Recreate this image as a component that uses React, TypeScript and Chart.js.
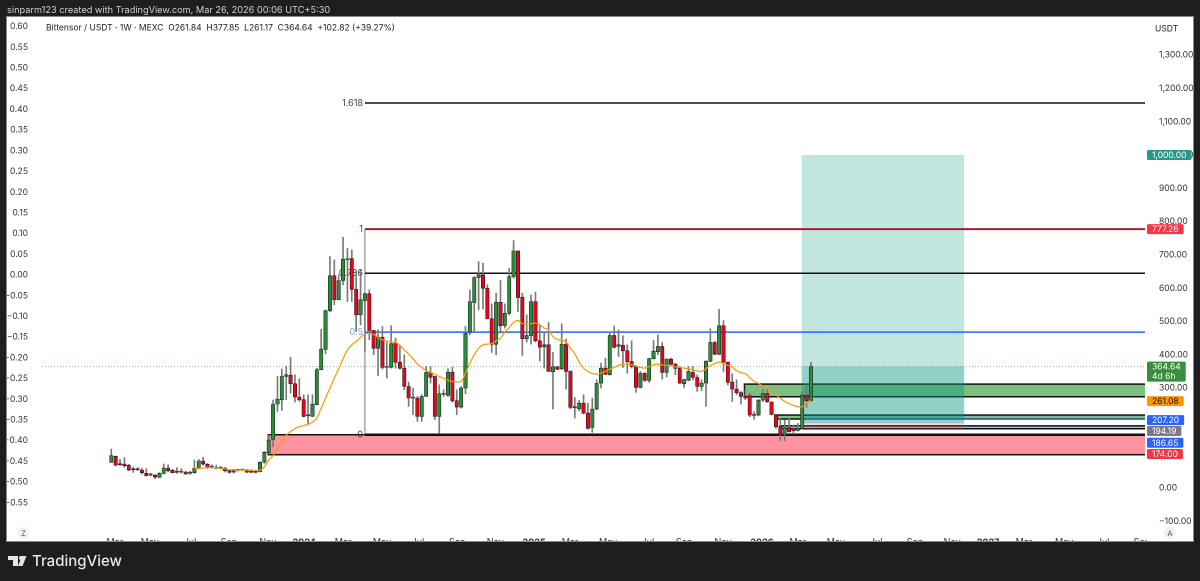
import React, { useEffect, useRef } from 'react';
import Chart from 'chart.js/auto';

const opens = [77,95,71,72,68,56,55,54,44,40,38,32,44,60,53,47,48,48,44,46,60,81,71,62,62,61,59,52,48,53,54,54,48,47,49,78,106,146,
  252,265,335,339,313,273,265,218,215,250,355,417,532,637,565,623,686,689,597,520,563,583,473,420,453,362,363,435,378,360,305,270,270,215,275,347,335,215,283,278,348,262,243,300,
  468,557,632,640,600,508,432,558,488,525,635,712,573,448,458,560,442,424,430,349,364,358,432,351,242,238,255,225,182,237,
  315,360,340,458,425,429,412,380,365,302,344,323,388,409,425,347,387,372,359,313,324,347,332,305,315,381,437,402,487,378,318,297,286,
  275,277,219,219,264,284,258,221,184,159,181,174,173,179,279,261.84];
const highs = [117,96,86,91,71,63,61,59,58,44,41,46,72,70,56,61,58,51,50,84,86,92,74,70,69,64,62,54,56,56,57,56,52,50,79,110,159,264,
  335,357,365,393,340,328,280,280,280,360,477,535,695,685,640,753,720,715,653,655,585,595,473,475,485,437,487,450,427,400,318,300,275,280,365,365,335,310,295,358,363,295,305,485,
  595,635,680,675,610,553,585,623,553,660,743,712,585,520,580,588,490,465,497,407,365,493,447,351,272,263,280,255,270,325,
  375,390,468,487,475,457,430,442,368,350,347,390,443,460,437,388,390,375,365,327,365,365,340,325,382,478,440,537,503,378,343,325,290,
  295,286,229,266,297,299,259,221,209,204,209,189,194,289,307,377.85];
const lows = [77,66,68,62,52,47,52,42,36,36,28,31,42,49,45,44,45,41,41,44,59,68,58,59,58,57,48,44,45,51,52,46,46,45,48,74,104,124,
  230,233,265,285,258,260,213,193,215,250,355,403,530,550,565,610,560,560,470,490,410,445,400,337,357,330,360,360,357,295,245,220,200,200,275,315,205,165,275,275,257,220,240,283,
  460,470,535,537,508,407,400,465,480,520,630,530,398,438,432,438,382,360,350,237,355,355,297,238,210,232,222,177,167,235,
  300,340,339,420,395,362,345,360,287,300,320,317,387,400,327,333,370,340,313,302,322,325,290,292,245,379,400,400,350,310,260,280,252,
  265,214,206,217,259,257,219,179,142,142,167,166,171,177,242,261.17];
const closes = [97,69,70,67,54,55,56,46,37,39,33,44,60,52,46,48,49,42,48,59,81,72,61,63,62,60,52,47,52,54,55,48,47,47.5,77,107,144,251,
  267,335,340,313,273,265,215,217,252,355,417,532,637,565,623,687,688,597,520,565,583,473,420,453,362,363,433,378,360,305,270,271,215,275,347,333,215,283,281,348,262,243,300,465,
  560,632,640,600,508,432,558,487,525,635,712,572,448,458,560,442,423,430,350,364,357,432,350,242,241,255,225,179,237,314,
  360,341,458,423,430,412,379,365,302,344,323,388,411,425,347,387,372,359,315,325,350,332,305,315,381,437,402,487,378,318,297,286,275,
  270,219,218,264,284,259,221,184,159,181,169,172,179,279,262,364.64];

// moving average starts at week 19
const emaStart = 19;
const ema = [58,59,60,62,62,61,59,57,55,54,54,54,54,54,53,53,64,84,98,118,138,158,170,178,184,188,191,198,210,240,270,300,330,358,388,415,430,440,452,463,463,461,452,445,441,438,437,428,415,402,388,372,362,353,347,341,335,329,324,320,319,320,345,375,400,420,430,432,434,442,450,468,482,497,503,494,492,493,495,490,480,475,455,446,443,438,420,403,378,360,350,344,342,345,350,357,362,368,372,372,370,366,362,360,364,370,372,370,368,367,364,362,360,358,355,352,350,358,368,374,378,375,368,364,352,347,343,332,320,314,306,300,290,280,270,260,253,248,244,244,254,264];

const timeTicks = [0.8,8.8,18,26.9,35.8,44.1,53,61.9,70.1,79.1,87.8,96.7,104.9,113.6,122.7,131,139.9,148.8,157,165.7,174.9,183.8,192.3,200.5,208.7,217.9,226.8,235.7];
const timeLabels = ['Mar','May','Jul','Sep','Nov','2024','Mar','May','Jul','Sep','Nov','2025','Mar','May','Jul','Sep','Nov','2026','Mar','May','Jul','Sep','Nov','2027','Mar','May','Jul','Sep'];
const priceTicks = [1300,1200,1100,1000,900,800,700,600,500,400,300,0,-100];
const leftTicks = [0.6,0.55,0.5,0.45,0.4,0.35,0.3,0.25,0.2,0.15,0.1,0.05,0,-0.05,-0.1,-0.15,-0.2,-0.25,-0.3,-0.35,-0.4,-0.45,-0.5,-0.55];

const fibLabels = ['1.618','1','0.786','0.5','0'];
const fibPrices = [1156,777.26,645,468,160];
const fibColors = ['#111','#b2182f','#111','#2962ff','#111'];
const fibWidths = [1.5,2,1.5,1.5,2.5];
const fibStart = 58;

// x0, x1, price top, price bottom
const pinkZone = [35.9, 160];
const greenZone = [144.8, 312, 274];
const greenZone2 = [152.3, 219, 207.2];
const thinZone = [152.9, 186.65, 178];
const positionX = [157.9, 195.05];
const position = { target: 1000, entry: 194.19, stop: 174, last: 364.64 };

const badgeLabels = ['1,000.00','777.26','364.64','261.08','207.20','194.19','186.65','174.00'];
const badgeAt = [1000,777.26,364.64,261.08,204,171,136,102];
const badgeColors = ['#26988a','#f23645','#388e3c','#ff9800','#2962ff','#787b86','#2962ff','#f23645'];

const FONT = 'Inter, "Liberation Sans", sans-serif';
const xMin = -15.85;
const xMax = 236.4;

const money = (v: number) => {
  const s = Math.abs(v).toLocaleString('en-US', { minimumFractionDigits: 2, maximumFractionDigits: 2 });
  return (v < 0 ? '\u2212' : '') + s;
};

const decorPlugin = {
  id: 'decor',
  beforeDraw(chart: any) {
    const { ctx } = chart;
    ctx.save();
    ctx.fillStyle = '#1e1e1e';
    ctx.fillRect(0, 0, chart.width, chart.height);
    ctx.fillStyle = '#fff';
    ctx.fillRect(7, 17, 1186, 524);
    ctx.strokeStyle = '#8a8a8a';
    ctx.lineWidth = 1;
    ctx.strokeRect(6.5, 16.5, 1187, 525);
    ctx.restore();
  },
  beforeDatasetsDraw(chart: any) {
    const { ctx, chartArea, scales } = chart;
    const x = (v: number) => scales.x.getPixelForValue(v);
    const y = (v: number) => scales.y.getPixelForValue(v);
    const zone = (x0: number, x1: number, top: number, bottom: number, fill: string, line?: string, lw = 1.5) => {
      ctx.fillStyle = fill;
      ctx.fillRect(x(x0), y(top), x(x1) - x(x0), y(bottom) - y(top));
      if (line) {
        ctx.strokeStyle = line;
        ctx.lineWidth = lw;
        ctx.strokeRect(x(x0), y(top), x(x1) - x(x0) + 4, y(bottom) - y(top));
      }
    };
    ctx.save();
    ctx.beginPath();
    ctx.rect(chartArea.left, chartArea.top, chartArea.width, chartArea.height);
    ctx.clip();

    zone(pinkZone[0], xMax, pinkZone[1], 100, 'rgba(247,60,80,0.55)', '#111');
    zone(greenZone[0], xMax, greenZone[1], greenZone[2], 'rgba(56,158,60,0.65)', '#111');
    zone(greenZone2[0], xMax, greenZone2[1], greenZone2[2], 'rgba(56,158,60,0.65)', '#111');
    zone(thinZone[0], xMax, thinZone[1], thinZone[2], 'rgba(90,190,225,0.7)', '#111');

    // long position tool
    zone(positionX[0], positionX[1], position.target, position.entry, 'rgba(8,153,129,0.25)');
    zone(positionX[0], positionX[1], position.last, position.entry, 'rgba(8,153,129,0.25)');
    zone(positionX[0], positionX[1], position.entry, position.stop, 'rgba(242,54,69,0.2)');

    ctx.font = `9px ${FONT}`;
    ctx.textBaseline = 'middle';
    ctx.textAlign = 'right';
    fibLabels.forEach((label, i) => {
      ctx.fillStyle = label === '0.5' ? '#7f9fff' : '#444';
      ctx.fillText(label, x(fibStart) - 2, y(fibPrices[i]));
    });
    ctx.restore();
  },
  afterDraw(chart: any) {
    const { ctx, scales } = chart;
    const y = (v: number) => scales.y.getPixelForValue(v);
    ctx.save();
    // the time axis is cut off where the price axis starts
    ctx.fillStyle = '#fff';
    ctx.fillRect(1147, 526, 46, 15);

    ctx.textBaseline = 'middle';
    ctx.font = `8.5px ${FONT}`;
    badgeLabels.forEach((label, i) => {
      const two = i === 2;
      const w = ctx.measureText(label).width + 10;
      const cy = y(badgeAt[i]);
      const top = two ? cy - 5 : cy - 5;
      ctx.fillStyle = badgeColors[i];
      ctx.beginPath();
      ctx.roundRect(1147, top, w, two ? 20 : 10, 1.5);
      ctx.fill();
      ctx.fillStyle = i === 3 ? '#111' : '#fff';
      ctx.textAlign = 'left';
      ctx.fillText(label, 1152, cy + 0.5);
      if (two) ctx.fillText('4d 6h', 1152, cy + 10);
    });

    ctx.fillStyle = '#222';
    ctx.fillText('USDT', 1155, 29);
    ctx.fillText('Bittensor / USDT \u00b7 1W \u00b7 MEXC  O261.84  H377.85  L261.17  C364.64  +102.82 (+39.27%)', 46, 28);

    ['Z', 'A'].forEach((t, i) => {
      const cx = i === 0 ? 23.5 : 1170;
      ctx.fillStyle = '#f1f1f1';
      ctx.beginPath();
      ctx.arc(cx, 533, 6, 0, Math.PI * 2);
      ctx.fill();
      ctx.fillStyle = '#555';
      ctx.textAlign = 'center';
      ctx.font = `7.5px ${FONT}`;
      ctx.fillText(t, cx, 533.5);
    });

    ctx.textAlign = 'left';
    ctx.fillStyle = '#cfcfcf';
    ctx.font = `9.2px ${FONT}`;
    ctx.fillText('sinparm123 created with TradingView.com, Mar 26, 2026 00:06 UTC+5:30', 7, 10);

    // footer logo
    ctx.fillStyle = '#e6e6e6';
    ctx.fillRect(8, 556, 10, 4);
    ctx.fillRect(13, 556, 5, 10);
    ctx.beginPath();
    ctx.arc(21, 558, 2, 0, Math.PI * 2);
    ctx.fill();
    ctx.beginPath();
    ctx.moveTo(22, 556);
    ctx.lineTo(26.5, 556);
    ctx.lineTo(22.5, 566);
    ctx.lineTo(18, 566);
    ctx.closePath();
    ctx.fill();
    ctx.font = `500 15px ${FONT}`;
    ctx.fillText('TradingView', 32, 561.5);
    ctx.restore();
  },
};

export default function App() {
  const chartRef = useRef<HTMLCanvasElement>(null);

  useEffect(() => {
    if (!chartRef.current) return;
    document.body.style.margin = '0';

    const weeks = opens.map((_, i) => i);
    const bodyColors = weeks.map(i => (closes[i] >= opens[i] ? '#2e8b3d' : '#e3071d'));
    const levelLines = fibPrices.map((price, i) => ({
      type: 'line' as const,
      data: [{ x: fibStart, y: price }, { x: xMax, y: price }],
      borderColor: fibColors[i],
      borderWidth: fibWidths[i],
      pointRadius: 0,
      order: 6,
    }));

    const chart = new Chart(chartRef.current, {
      type: 'bar',
      data: {
        datasets: [
          ...levelLines,
          {
            type: 'line',
            data: [{ x: fibStart, y: fibPrices[4] }, { x: fibStart, y: fibPrices[1] }],
            borderColor: '#787b86',
            borderWidth: 1,
            pointRadius: 0,
            order: 6,
          },
          {
            type: 'line',
            data: [{ x: positionX[0], y: 207.2 }, { x: xMax, y: 207.2 }],
            borderColor: '#2962ff',
            borderWidth: 1,
            pointRadius: 0,
            order: 6,
          },
          {
            type: 'line',
            data: [{ x: xMin, y: closes[160] }, { x: xMax, y: closes[160] }],
            borderColor: 'rgba(56,142,60,0.55)',
            borderWidth: 1,
            borderDash: [1, 2],
            pointRadius: 0,
            order: 6,
          },
          {
            type: 'line',
            data: ema.map((v, i) => ({ x: emaStart + i, y: v })),
            borderColor: '#ff9800',
            borderWidth: 1.2,
            pointRadius: 0,
            tension: 0.4,
            order: 1,
          },
          {
            data: weeks.map(i => ({ x: i, y: [lows[i], highs[i]] })),
            backgroundColor: '#7a7a7a',
            borderWidth: 0,
            barThickness: 1,
            grouped: false,
            order: 4,
          },
          {
            data: weeks.map(i => ({ x: i, y: [opens[i], closes[i]] })),
            backgroundColor: bodyColors,
            borderColor: '#1a1a1a',
            borderWidth: 0.6,
            borderSkipped: false,
            barThickness: 3.4,
            minBarLength: 1,
            grouped: false,
            order: 3,
          },
        ] as any,
      },
      options: {
        responsive: false,
        animation: false,
        devicePixelRatio: 2,
        layout: { padding: { left: 7, right: 7, top: 17, bottom: 40 } },
        plugins: { legend: { display: false }, tooltip: { enabled: false }, title: { display: false } },
        scales: {
          x: {
            type: 'linear',
            min: xMin,
            max: xMax,
            offset: false,
            grid: { display: false },
            border: { display: false },
            afterBuildTicks: (scale: any) => {
              scale.ticks = timeTicks.map(value => ({ value }));
            },
            afterFit: (scale: any) => {
              scale.height = 15;
            },
            ticks: {
              autoSkip: false,
              maxRotation: 0,
              padding: 3,
              color: '#333',
              font: (ctx: any) => ({
                family: FONT,
                size: 9,
                weight: timeLabels[ctx.index]?.length === 4 ? 'bold' : 'normal',
              }),
              callback: (_v: any, i: number) => timeLabels[i],
            },
          },
          y: {
            position: 'right',
            min: -114.1,
            max: 1414.4,
            grid: { display: false },
            border: { display: false },
            afterBuildTicks: (scale: any) => {
              scale.ticks = priceTicks.map(value => ({ value }));
            },
            afterFit: (scale: any) => {
              scale.width = 48;
            },
            ticks: {
              autoSkip: false,
              padding: 6,
              color: '#333',
              font: { family: FONT, size: 8.5 },
              callback: (v: any) => money(Number(v)),
            },
          },
          yLeft: {
            position: 'left',
            min: -0.606,
            max: 0.623,
            grid: { display: false },
            border: { display: false },
            afterBuildTicks: (scale: any) => {
              scale.ticks = leftTicks.map(value => ({ value }));
            },
            afterFit: (scale: any) => {
              scale.width = 35;
            },
            ticks: {
              autoSkip: false,
              padding: 6,
              color: '#333',
              font: { family: FONT, size: 8.5 },
              callback: (v: any) => (Number(v) < 0 ? '\u2212' : '') + Math.abs(Number(v)).toFixed(2),
            },
          },
        },
      } as any,
      plugins: [decorPlugin],
    });

    return () => {
      chart.destroy();
    };
  }, []);

  return <canvas ref={chartRef} width={1200} height={581} style={{ display: 'block', width: 1200, height: 581 }}></canvas>;
}
